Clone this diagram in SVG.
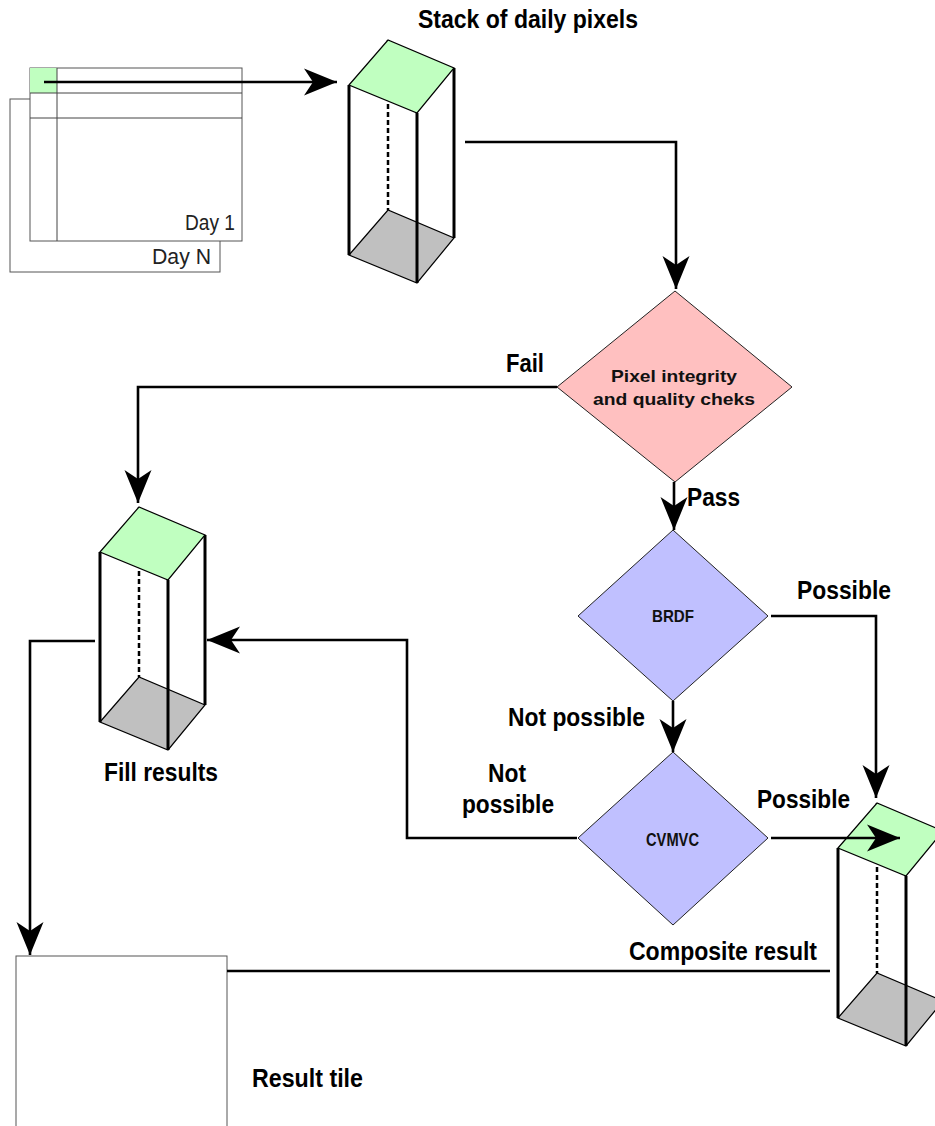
<svg xmlns="http://www.w3.org/2000/svg" xmlns:xlink="http://www.w3.org/1999/xlink" width="935" height="1126" viewBox="0 0 935 1126">
  <style>
    .lbl { font-family: "Liberation Sans", Arial, sans-serif; font-weight: bold; font-size: 25px; fill: #000; }
    .in { font-family: "Liberation Sans", Arial, sans-serif; font-weight: bold; fill: #111; }
    .day { font-family: "Liberation Sans", Arial, sans-serif; font-size: 21.5px; fill: #222; }
    .sheet { fill: #fff; stroke: #555; stroke-width: 1; }
    .grid { stroke: #444; stroke-width: 1; fill: none; }
    .conn { fill: none; stroke: #000; stroke-width: 2.6; }
    .edge { stroke: #000; stroke-width: 3; fill: none; }
    .hidden { stroke: #000; stroke-width: 2.5; stroke-dasharray: 5 3; fill: none; }
    .face { stroke: #000; stroke-width: 1.2; }
    .diamond { stroke: #222; stroke-width: 1; }
  </style>
  <defs>
    <marker id="head" markerUnits="userSpaceOnUse" markerWidth="36" markerHeight="30" viewBox="-34 -15 36 30" refX="0" refY="0" orient="auto">
      <path d="M0,0 L-33,-13.5 L-24,0 L-33,13.5 Z" fill="#000"/>
    </marker>
    <!-- pixel column: back top corner at (39,0), left top vertex at (0,45) -->
    <g id="column">
      <line class="hidden" x1="39" y1="0" x2="39" y2="170"/>
      <polygon class="face" fill="#c0c0c0" points="0,215 39,170 105,198 68,243"/>
      <line class="edge" x1="0" y1="45" x2="0" y2="215"/>
      <line class="edge" x1="68" y1="73" x2="68" y2="243"/>
      <line class="edge" x1="105" y1="28" x2="105" y2="198"/>
      <polygon class="face" fill="#c0ffc0" points="0,45 39,0 105,28 68,73"/>
    </g>
  </defs>

  <!-- daily image tiles -->
  <g id="days">
    <rect class="sheet" x="10" y="99" width="210" height="173"/>
    <rect class="sheet" x="30" y="68" width="212" height="173"/>
    <rect x="30" y="68" width="27" height="25" fill="#c0ffc0"/>
    <line class="grid" x1="57" y1="68" x2="57" y2="241"/>
    <line class="grid" x1="30" y1="93" x2="242" y2="93"/>
    <line class="grid" x1="30" y1="118" x2="242" y2="118"/>
    <text class="day" x="185" y="230" textLength="50" lengthAdjust="spacingAndGlyphs">Day 1</text>
    <text class="day" x="152" y="264" textLength="59" lengthAdjust="spacingAndGlyphs">Day N</text>
  </g>

  <!-- stack of daily pixels -->
  <g id="stack">
    <use xlink:href="#column" href="#column" transform="translate(349,40)"/>
    <text class="lbl" x="418" y="28" textLength="220" lengthAdjust="spacingAndGlyphs">Stack of daily pixels</text>
  </g>

  <!-- quality check -->
  <g id="quality">
    <polygon class="diamond" fill="#ffc0c0" points="675,291 792,387 675,482 557,387"/>
    <text class="in" font-size="17" x="611" y="382" textLength="126" lengthAdjust="spacingAndGlyphs">Pixel integrity</text>
    <text class="in" font-size="17" x="593" y="405" textLength="162" lengthAdjust="spacingAndGlyphs">and quality cheks</text>
  </g>

  <!-- BRDF decision -->
  <g id="brdf">
    <polygon class="diamond" fill="#c0c0ff" points="673,530 768,616 673,701 578,616"/>
    <text class="in" font-size="17" x="652" y="622" textLength="42" lengthAdjust="spacingAndGlyphs">BRDF</text>
  </g>

  <!-- CVMVC decision -->
  <g id="cvmvc">
    <polygon class="diamond" fill="#c0c0ff" points="673,752 768,838 673,925 578,838"/>
    <text class="in" font-size="18" x="646" y="846" textLength="53" lengthAdjust="spacingAndGlyphs">CVMVC</text>
  </g>

  <!-- fill results -->
  <g id="fill">
    <use xlink:href="#column" href="#column" transform="translate(100,507)"/>
    <text class="lbl" x="104" y="781" textLength="114" lengthAdjust="spacingAndGlyphs">Fill results</text>
  </g>

  <!-- composite result -->
  <g id="composite">
    <use xlink:href="#column" href="#column" transform="translate(838,803)"/>
    <text class="lbl" x="629" y="960" textLength="188" lengthAdjust="spacingAndGlyphs">Composite result</text>
  </g>

  <!-- result tile -->
  <g id="tile">
    <rect class="sheet" x="16" y="956" width="211" height="200"/>
    <text class="lbl" x="252" y="1087" textLength="111" lengthAdjust="spacingAndGlyphs">Result tile</text>
  </g>

  <!-- connectors -->
  <g id="connectors">
    <path class="conn" d="M44,82 H337" marker-end="url(#head)"/>
    <path class="conn" d="M465,142 H676 V289" marker-end="url(#head)"/>
    <path class="conn" d="M557,387 H138 V503" marker-end="url(#head)"/>
    <path class="conn" d="M674,482 V530" marker-end="url(#head)"/>
    <path class="conn" d="M771,616 H876 V798" marker-end="url(#head)"/>
    <path class="conn" d="M673,701 V752" marker-end="url(#head)"/>
    <path class="conn" d="M771,838 H900" marker-end="url(#head)"/>
    <path class="conn" d="M577,838 H407 V640 H207" marker-end="url(#head)"/>
    <path class="conn" d="M95,641 H30 V955" marker-end="url(#head)"/>
    <path class="conn" d="M227,971 H830"/>

    <text class="lbl" x="506" y="372" textLength="38" lengthAdjust="spacingAndGlyphs">Fail</text>
    <text class="lbl" x="687" y="506" textLength="53" lengthAdjust="spacingAndGlyphs">Pass</text>
    <text class="lbl" x="797" y="599" textLength="94" lengthAdjust="spacingAndGlyphs">Possible</text>
    <text class="lbl" x="508" y="726" textLength="137" lengthAdjust="spacingAndGlyphs">Not possible</text>
    <text class="lbl" x="488" y="782" textLength="38" lengthAdjust="spacingAndGlyphs">Not</text>
    <text class="lbl" x="462" y="813" textLength="92" lengthAdjust="spacingAndGlyphs">possible</text>
    <text class="lbl" x="757" y="808" textLength="93" lengthAdjust="spacingAndGlyphs">Possible</text>
  </g>
</svg>
